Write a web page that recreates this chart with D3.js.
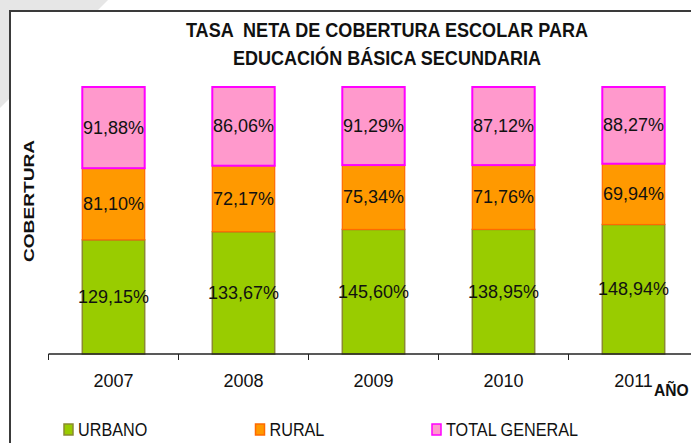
<!DOCTYPE html>
<html>
<head>
<meta charset="utf-8">
<script src="https://cdn.jsdelivr.net/npm/d3@7"></script>
<style>
  html, body { margin: 0; padding: 0; background: #fff; }
  svg { display: block; font-family: "Liberation Sans", Arial, sans-serif; }
</style>
</head>
<body>
<svg id="chart" width="691" height="443"></svg>
<script>
// ---- data ----
const years = ["2007", "2008", "2009", "2010", "2011"];
const urbano = [129.15, 133.67, 145.60, 138.95, 148.94];
const rural = [81.10, 72.17, 75.34, 71.76, 69.94];
const totalGeneral = [91.88, 86.06, 91.29, 87.12, 88.27];
const seriesNames = ["URBANO", "RURAL", "TOTAL GENERAL"];
const titleLines = ["TASA  NETA DE COBERTURA ESCOLAR PARA", "EDUCACIÓN BÁSICA SECUNDARIA"];
const yTitle = "COBERTURA";
const xTitle = "AÑO";

// ---- styles ----
const fills = ["#99cc00", "#ff9900", "#ff99cc"];
const strokes = ["#8a8a30", "#ff6a00", "#ff00ff"];
const strokeW = [1.5, 1.2, 2];

const svg = d3.select("#chart");
const W = 691, H = 443;

// background corner triangle & frame
svg.append("path").attr("d", "M0,0 L108,0 L0,108 Z").attr("fill", "#e6e6e6");
svg.append("rect").attr("x", 10).attr("y", 11).attr("width", 700).attr("height", 460)
  .attr("fill", "#fff").attr("stroke", "#3a3a3a").attr("stroke-width", 2);

// table for stacking
const table = years.map((y, i) => ({ year: y, URBANO: urbano[i], RURAL: rural[i], "TOTAL GENERAL": totalGeneral[i] }));
const stack = d3.stack().keys(seriesNames).offset(d3.stackOffsetExpand);
const layers = stack(table);

const plotL = 48.5, plotR = 698.5, plotT = 87, plotB = 354;
const x = d3.scaleBand().domain(years).range([plotL, plotR]).paddingInner(0.52).paddingOuter(0.26);
const y = d3.scaleLinear().domain([0, 1]).range([plotB, plotT]);

const fmt = v => d3.format(".2f")(v).replace(".", ",") + "%";

const g = svg.append("g");
layers.forEach((layer, si) => {
  const lg = g.append("g");
  lg.selectAll("rect").data(layer).join("rect")
    .attr("x", d => x(d.data.year))
    .attr("width", x.bandwidth())
    .attr("y", d => y(d[1]))
    .attr("height", d => y(d[0]) - y(d[1]))
    .attr("fill", fills[si])
    .attr("stroke", strokes[si])
    .attr("stroke-width", strokeW[si]);
});
layers.forEach((layer, si) => {
  g.append("g").selectAll("text").data(layer).join("text")
    .attr("x", d => x(d.data.year) + x.bandwidth() / 2)
    .attr("y", d => (y(d[0]) + y(d[1])) / 2 + 6)
    .attr("text-anchor", "middle")
    .attr("font-size", 18)
    .attr("fill", "#111")
    .text(d => fmt(d.data[layer.key]));
});

// x axis line and ticks at category boundaries
const step = x.step();
const boundaries = d3.range(years.length + 1).map(i => plotL + i * step);
svg.append("line").attr("x1", plotL).attr("x2", W).attr("y1", plotB).attr("y2", plotB)
  .attr("stroke", "#222").attr("stroke-width", 1.3);
svg.append("g").selectAll("line").data(boundaries).join("line")
  .attr("x1", d => d).attr("x2", d => d).attr("y1", plotB).attr("y2", plotB + 6)
  .attr("stroke", "#222").attr("stroke-width", 1);
svg.append("g").selectAll("text").data(years).join("text")
  .attr("x", d => x(d) + x.bandwidth() / 2)
  .attr("y", 387)
  .attr("text-anchor", "middle")
  .attr("font-size", 18)
  .attr("fill", "#111")
  .text(d => d);

// x title
svg.append("text").attr("transform", "translate(654,396) scale(0.92,1)")
  .attr("font-size", 17).attr("font-weight", "bold").attr("fill", "#111").text(xTitle);

// y title
svg.append("text").attr("transform", "translate(34,201) rotate(-90) scale(1.32,1)")
  .attr("text-anchor", "middle").attr("font-size", 14.5).attr("font-weight", "bold")
  .attr("fill", "#111").text(yTitle);

// title
svg.append("g").selectAll("text").data(titleLines).join("text")
  .attr("transform", (d, i) => `translate(387,${37 + i * 28}) scale(0.86,1)`)
  .attr("text-anchor", "middle").attr("font-size", 21).attr("font-weight", "bold")
  .attr("xml:space", "preserve").style("white-space", "pre")
  .attr("fill", "#111").text(d => d);

// legend
const legX = [64, 255.5, 432];
const leg = svg.append("g").selectAll("g").data(seriesNames).join("g")
  .attr("transform", (d, i) => `translate(${legX[i]},424)`);
leg.append("rect").attr("width", 9).attr("height", 11)
  .attr("fill", (d, i) => fills[i]).attr("stroke", (d, i) => strokes[i]).attr("stroke-width", 1.5);
leg.append("text").attr("transform", "translate(14,12) scale(0.9,1)")
  .attr("font-size", 18).attr("fill", "#111").text(d => d);
</script>
</body>
</html>
